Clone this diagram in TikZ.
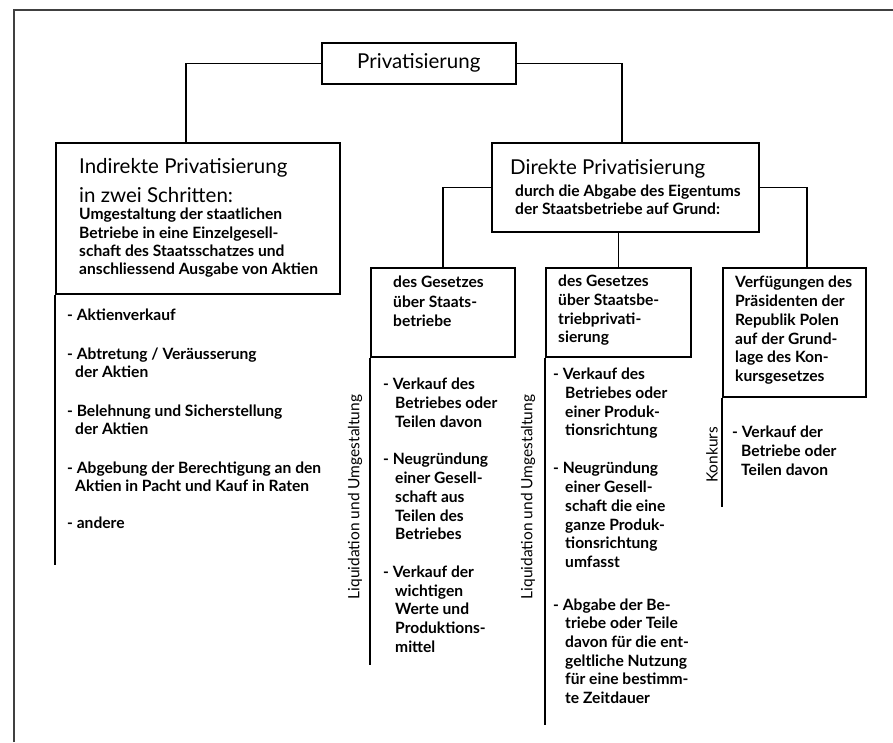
\documentclass[tikz,border=0pt]{standalone}
\usepackage{fontspec}
\setmainfont{Lato}
\newcommand\myind[1]{\hspace*{#1}}
\begin{document}
\begin{tikzpicture}[x=1pt,y=-1pt,
  box/.style={draw, line width=1.6pt, inner sep=0pt, anchor=north west},
  conn/.style={line width=1.5pt},
  frame/.style={line width=1.1pt, draw=black!75},
  head/.style={anchor=north west, inner sep=0pt, align=left, font=\fontsize{20.5}{29}\selectfont},
  body/.style={anchor=north west, inner sep=0pt, align=left, font=\bfseries\fontsize{15.6}{#1}\selectfont},
  body/.default=18.6,
  side/.style={rotate=90, inner sep=0pt, font=\fontsize{15.5}{18}\selectfont}
]
\useasboundingbox (0,0) rectangle (893,742);
\draw[frame] (14,742) -- (14,10) -- (893,10);

% boxes
\node[box, minimum width=194pt, minimum height=41pt, font=\fontsize{20.5}{24}\selectfont] (top) at (321,42) {Privatisierung};
\node[box, minimum width=284pt, minimum height=151pt] (left) at (55,142) {};
\node[box, minimum width=267pt, minimum height=89pt] (direct) at (491,142) {};
\node[box, minimum width=144pt, minimum height=89pt] (sub1) at (370,267) {};
\node[box, minimum width=145pt, minimum height=89pt] (sub2) at (545,267) {};
\node[box, minimum width=143pt, minimum height=129pt] (sub3) at (722,267) {};

% connectors
\draw[conn] (top.west) -| ([xshift=131pt]left.north west);
\draw[conn] (top.east) -| ([xshift=131pt]direct.north west);
\draw[conn] (direct.west) -| (sub1.north);
\draw[conn] (sub2.north |- direct.south) -- (sub2.north);
\draw[conn] (direct.east) -| ([xshift=85pt]sub3.north west);

% vertical rules below boxes
\coordinate (lend) at (55,565);
\coordinate (s1end) at (370,665);
\coordinate (s2end) at (545,725);
\coordinate (s3end) at (722,507);
\draw[conn] (left.south west) -- (lend);
\draw[conn] (sub1.south west) -- (s1end);
\draw[conn] (sub2.south west) -- (s2end);
\draw[conn] (sub3.south west) -- (s3end);

% left box texts
\node[head] (lhead) at (79,158) {Indirekte Privatisierung\\in zwei Schritten:};
\node[body=18.4] (lbody) at (79,208) {Umgestaltung der staatlichen\\Betriebe in eine Einzelgesell-\\schaft des Staatsschatzes und\\anschliessend Ausgabe von Aktien};
\node[body=18.2] (llist) at (67,309) {- Aktienverkauf\\[20.5pt]
- Abtretung / Veräusserung\\\myind{8pt}der Aktien\\[20.5pt]
- Belehnung und Sicherstellung\\\myind{8pt}der Aktien\\[20.5pt]
- Abgebung der Berechtigung an den\\\myind{8pt}Aktien in Pacht und Kauf in Raten\\[19pt]
- andere};

% direct box texts
\node[head] (dhead) at (510,159) {Direkte Privatisierung};
\node[body=18] (dbody) at (515,185) {durch die Abgabe des Eigentums\\der Staatsbetriebe auf Grund:};

% sub box 1
\node[body=19.5] (s1head) at (393,276) {des Gesetzes\\über Staats-\\betriebe};
\node[body=18.8] (s1list) at (383,378) {- Verkauf des\\\myind{12pt}Betriebes oder\\\myind{12pt}Teilen davon\\[18.5pt]
- Neugründung\\\myind{12pt}einer Gesell-\\\myind{12pt}schaft aus\\\myind{12pt}Teilen des\\\myind{12pt}Betriebes\\[18.5pt]
- Verkauf der\\\myind{12pt}wichtigen\\\myind{12pt}Werte und\\\myind{12pt}Produktions-\\\myind{12pt}mittel};

% sub box 2
\node[body=18.7] (s2head) at (558,275) {des Gesetzes\\über Staatsbe-\\triebprivati-\\sierung};
\node[body=18.7] (s2list) at (553,368) {- Verkauf des\\\myind{12pt}Betriebes oder\\\myind{12pt}einer Produk-\\\myind{12pt}tionsrichtung\\[19.3pt]
- Neugründung\\\myind{12pt}einer Gesell-\\\myind{12pt}schaft die eine\\\myind{12pt}ganze Produk-\\\myind{12pt}tionsrichtung\\\myind{12pt}umfasst\\[24pt]
- Abgabe der Be-\\\myind{12pt}triebe oder Teile\\\myind{12pt}davon für die ent-\\\myind{12pt}geltliche Nutzung\\\myind{12pt}für eine bestimm-\\\myind{12pt}te Zeitdauer};

% sub box 3
\node[body=18.8] (s3head) at (735,276) {Verfügungen des\\Präsidenten der\\Republik Polen\\auf der Grund-\\lage des Kon-\\kursgesetzes};
\node[body=18.7] (s3list) at (732,426) {- Verkauf der\\\myind{9pt}Betriebe oder\\\myind{9pt}Teilen davon};

% side labels
\node[side] (liq1) at (355,497) {Liquidation und Umgestaltung};
\node[side] (liq2) at (528,497) {Liquidation und Umgestaltung};
\node[side] (konk) at (712,455) {Konkurs};
\end{tikzpicture}
\end{document}
